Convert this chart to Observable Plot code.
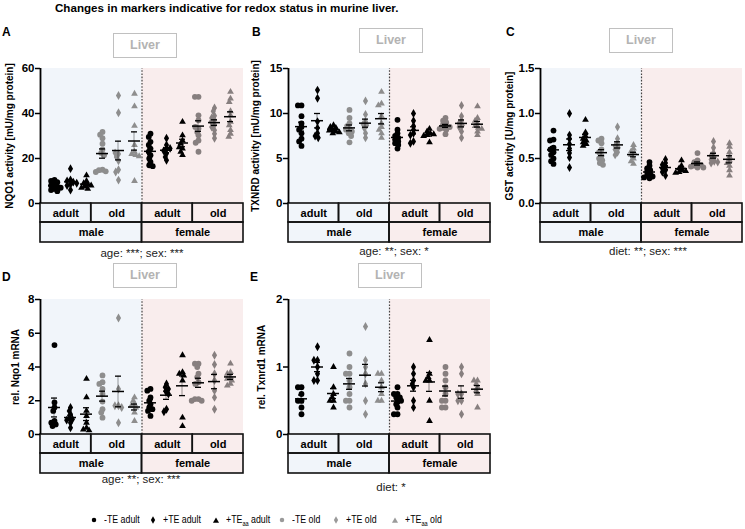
<!DOCTYPE html>
<html>
<head>
<meta charset="utf-8">
<script src="https://cdn.jsdelivr.net/npm/d3@7"></script>
<script src="https://cdn.jsdelivr.net/npm/@observablehq/plot@0.6"></script>
<style>
html,body{margin:0;padding:0;background:#fff;}
#root{position:relative;width:745px;height:529px;overflow:hidden;font-family:"Liberation Sans",Arial,sans-serif;color:#000;}
.abs{position:absolute;line-height:1;white-space:nowrap;}
#title{left:55px;top:2px;font-size:11.6px;font-weight:bold;}
.letter{font-size:12px;font-weight:bold;}
.liver{width:64px;height:25px;box-sizing:border-box;border:1.5px solid #c0c0c0;color:#b3b3b3;font-weight:bold;font-size:12.5px;display:flex;align-items:center;justify-content:center;}
.note{font-size:11.5px;color:#222;transform:translateX(-50%);}
.leg{font-size:11px;display:flex;align-items:center;}
.leg span{display:inline-block;transform:scaleX(0.8);transform-origin:0 50%;}
.leg sub{font-size:7px;vertical-align:-3px;}
.leg svg{margin-right:6px;}
.layer{position:absolute;}
.layer svg{display:block;}
</style>
</head>
<body>
<div id="root"><div id="title" class="abs">Changes in markers indicative for redox status in murine liver.</div></div>
<script>
// ---------- categories ----------
const sexes = ["male", "female"];
const ages = ["adult", "old"];
const diets = ["-TE", "+TE", "+TEaa"];
const dietSymbols = ["circle", "diamond", "triangle"];

// ---------- values (order: male adult -TE,+TE,+TEaa | male old | female adult | female old) ----------
const nqo1Activity = [
  [10.5, 10, 9.5, 8.5, 8, 7.5, 7, 6.5, 6, 5.5],
  [15.5, 10.5, 10, 9.5, 9, 8.5, 8, 6],
  [12.5, 10, 9, 8.5, 8, 7.5, 7, 6.5],
  [31.8, 30.6, 29, 26.6, 24, 22.5, 21.5, 15, 14.8, 14.3, 14],
  [48, 40.3, 22, 22.5, 20.7, 19, 15, 14, 10.4],
  [48.8, 43.2, 34.5, 26, 23, 22, 21.5, 21, 10],
  [31, 29.6, 27.4, 26, 24.4, 23, 21.5, 20, 18.5, 17, 16.6],
  [29, 26, 24.4, 23.4, 22.2, 20.7, 19.2, 24.5],
  [36.3, 30.3, 28, 26.6, 24.4, 23, 21.5, 25],
  [47.4, 47.4, 39.2, 37, 33.3, 31.8, 30.3, 28, 27, 23, 34],
  [42.5, 41, 39, 38, 37, 36.3, 35, 34, 32.6, 31, 29],
  [49.6, 46.6, 45.1, 41, 39.2, 36.3, 34.8, 32.6, 31, 29.6]
];
const txnrdActivity = [
  [10.9, 10.9, 9.7, 8.9, 8.5, 8.2, 7.8, 7.2, 6.9, 6.4],
  [12.6, 11.7, 9.1, 8.4, 7.8, 7.5, 7.3],
  [8.7, 8.5, 8.4, 8.2, 8.1, 8.0, 7.9, 7.8],
  [10.4, 9.5, 8.9, 8.6, 8.3, 8.2, 8.0, 7.8, 7.5, 6.8],
  [11.4, 9.9, 9.1, 8.8, 8.7, 8.4, 7.8, 7.3],
  [12.4, 11.1, 10.9, 9.7, 8.9, 8.5, 8.2, 7.8, 7.3],
  [9.3, 8.2, 7.8, 7.5, 7.3, 7.1, 6.9, 6.7, 6.5, 6.1],
  [10.0, 9.2, 8.6, 8.2, 7.8, 7.6, 6.9, 6.7],
  [8.3, 8.0, 7.8, 7.7, 7.6, 7.5, 6.8],
  [9.5, 9.2, 9.0, 8.8, 8.6, 8.5, 8.4, 8.3, 8.2, 7.7],
  [10.9, 9.7, 9.2, 8.9, 8.7, 8.5, 8.0, 7.3],
  [10.8, 9.5, 9.2, 8.9, 8.6, 8.4, 8.3, 8.0, 7.6]
];
const gstActivity = [
  [0.81, 0.71, 0.70, 0.62, 0.6, 0.57, 0.54, 0.5, 0.47, 0.44],
  [1.0, 0.76, 0.72, 0.66, 0.61, 0.56, 0.51, 0.4],
  [0.93, 0.79, 0.75, 0.72, 0.7, 0.68, 0.66, 0.64],
  [0.72, 0.7, 0.67, 0.6, 0.57, 0.53, 0.5, 0.48, 0.45, 0.43],
  [0.85, 0.72, 0.67, 0.64, 0.62, 0.6, 0.57, 0.54],
  [0.65, 0.61, 0.58, 0.56, 0.54, 0.5, 0.47, 0.44],
  [0.46, 0.42, 0.39, 0.37, 0.35, 0.33, 0.31, 0.3, 0.29, 0.28],
  [0.49, 0.45, 0.43, 0.41, 0.39, 0.37, 0.35, 0.31],
  [0.48, 0.42, 0.39, 0.37, 0.36, 0.35, 0.34],
  [0.56, 0.48, 0.46, 0.44, 0.43, 0.42, 0.41, 0.4, 0.4],
  [0.69, 0.62, 0.56, 0.53, 0.51, 0.49, 0.47, 0.46, 0.45],
  [0.67, 0.63, 0.57, 0.52, 0.48, 0.45, 0.42, 0.37, 0.31]
];
const nqo1Mrna = [
  [5.3, 1.9, 1.6, 1.4, 0.8, 0.7, 0.6, 0.5],
  [1.6, 1.4, 1.2, 1.0, 0.9, 0.85, 0.7, 0.4],
  [3.3, 2.2, 1.4, 1.1, 0.7, 0.4, 0.3, 0.25],
  [3.5, 3.1, 3.0, 2.7, 2.4, 1.95, 1.5, 1.3, 1.0],
  [6.9, 2.7, 1.7, 1.7, 1.6, 0.7],
  [2.2, 2.0, 1.8, 1.7, 1.6, 1.3, 0.8],
  [2.7, 2.6, 2.2, 2.0, 1.8, 1.6, 1.5, 1.4, 1.1],
  [3.0, 2.8, 2.7, 2.55, 2.4, 1.5, 1.35],
  [4.7, 3.7, 3.6, 3.5, 3.2, 1.0, 0.5],
  [4.2, 4.2, 4.0, 3.6, 3.4, 3.1, 3.0, 2.1, 2.1, 2.0, 2.0],
  [4.7, 4.15, 3.6, 3.2, 2.6, 2.2, 1.5],
  [4.2, 3.7, 3.6, 3.4, 3.3, 3.2, 3.0, 2.9]
];
const txnrd1Mrna = [
  [0.7, 0.7, 0.6, 0.5, 0.5, 0.4, 0.3],
  [1.3, 1.1, 1.1, 1.0, 0.9, 0.8, 0.8],
  [1.0, 0.7, 0.6, 0.55, 0.5, 0.5, 0.4],
  [1.2, 1.0, 0.9, 0.9, 0.8, 0.7, 0.6, 0.5, 0.5, 0.4],
  [1.6, 1.1, 1.0, 0.9, 0.75, 0.5, 0.3],
  [0.9, 0.9, 0.8, 0.7, 0.6, 0.5, 0.5],
  [0.7, 0.6, 0.6, 0.55, 0.55, 0.5, 0.5, 0.45, 0.4, 0.3, 0.3],
  [1.0, 0.9, 0.8, 0.75, 0.7, 0.5, 0.4],
  [1.4, 0.9, 0.85, 0.8, 0.8, 0.5, 0.2],
  [1.0, 0.9, 0.8, 0.7, 0.6, 0.5, 0.5, 0.4, 0.4],
  [1.0, 0.9, 0.6, 0.5, 0.5, 0.3, 0.6],
  [0.8, 0.8, 0.75, 0.7, 0.65, 0.6, 0.4]
];

// ---------- tick labels ----------
const nqo1Ticks = [0, 20, 40, 60];
const txnrdTicks = [0, 5, 10, 15];
const gstTicks = [0, 0.5, 1.0, 1.5];
const nqo1MrnaTicks = [0, 2, 4, 6, 8];
const txnrd1MrnaTicks = [0, 1, 2];

// ---------- colours ----------
const groupColors = {"male|adult": "#000000", "male|old": "#8e8e8e", "female|adult": "#000000", "female|old": "#877f7f"};
const sexFills = {male: "#f1f5fa", female: "#f9eded"};

const groups = [];
sexes.forEach(sex => ages.forEach(age => diets.forEach((diet, di) => groups.push({
  key: `${sex} ${age} ${diet}`, sex, age, diet, symbol: dietSymbols[di], color: groupColors[`${sex}|${age}`]
}))));

const panels = [
  {letter: "A", label: "NQO1 activity [mU/mg protein]", values: nqo1Activity, ticks: nqo1Ticks, fmt: d3.format("d"), note: "age: ***; sex: ***",
   left: 0, top: 63, mr: 2, labelOffset: 35, liver: [113, 33], letterPos: [2, 26.4], notePos: [142, 248]},
  {letter: "B", label: "TXNRD activity [mU/mg protein]", values: txnrdActivity, ticks: txnrdTicks, fmt: d3.format("d"), note: "age: **; sex: *",
   left: 248, top: 63, mr: 3, labelOffset: 37, liver: [359, 28], letterPos: [252, 26.4], notePos: [394, 246]},
  {letter: "C", label: "GST activity [U/mg protein]", values: gstActivity, ticks: gstTicks, fmt: d3.format(".1f"), note: "diet: **; sex: ***",
   left: 500, top: 63, mr: 3, labelOffset: 35, liver: [609, 28], letterPos: [506, 26.4], notePos: [648, 246]},
  {letter: "D", label: "rel. Nqo1 mRNA", values: nqo1Mrna, ticks: nqo1MrnaTicks, fmt: d3.format("d"), note: "age: **; sex: ***",
   left: 0, top: 294, mr: 2, labelOffset: 29, liver: [113, 263], letterPos: [2, 271.4], notePos: [141, 474]},
  {letter: "E", label: "rel. Txnrd1 mRNA", values: txnrd1Mrna, ticks: txnrd1MrnaTicks, fmt: d3.format("d"), note: "diet: *",
   left: 248, top: 294, mr: 3, labelOffset: 31, liver: [358, 263], letterPos: [250, 270.5], notePos: [391, 481.7]}
];

const root = document.getElementById("root");
function addDiv(cls, html, x, y) {
  const d = document.createElement("div");
  d.className = "abs " + cls;
  d.innerHTML = html;
  d.style.left = x + "px";
  d.style.top = y + "px";
  root.appendChild(d);
  return d;
}
const symbolRadius = {circle: 2.9, diamond: 2.7, triangle: 2.5};
const dodgeRadius = 1.8;

function drawPanel(p) {
  const W = 245, H = 184, MT = 5, MB = 44, ML = 40;
  const ymax = p.ticks[p.ticks.length - 1];
  const k = ymax / 135;
  const r1 = -19 * k, r2 = -39 * k;
  const bandwidth = (W - ML - p.mr) / groups.length;
  const whisker = 1.3;
  const ageCells = [];
  sexes.forEach((sex, si) => ages.forEach((age, ai) => {
    const i = si * ages.length + ai;
    ageCells.push({label: age, sex, x1: i * diets.length, x2: (i + 1) * diets.length});
  }));
  const perSex = ages.length * diets.length;
  const sexCells = sexes.map((sex, si) => ({label: sex, sex, x1: si * perSex, x2: (si + 1) * perSex}));
  const points = groups.flatMap((g, gi) => p.values[gi].map(v => ({group: g.key, value: v, symbol: g.symbol, color: g.color})));
  const stats = groups.map((g, gi) => {
    const v = p.values[gi];
    const m = d3.mean(v), s = d3.deviation(v) / Math.sqrt(v.length);
    return {group: g.key, mean: m, lo: m - s, hi: m + s};
  });
  const style = {background: "none", overflow: "visible", fontFamily: "'Liberation Sans', Arial, sans-serif", fontSize: "11px"};
  const common = {width: W, height: H, marginLeft: ML, marginRight: p.mr, marginTop: MT, marginBottom: MB, style};

  const base = Plot.plot({
    ...common,
    x: {domain: [0, groups.length], axis: null},
    y: {domain: [0, ymax], axis: null},
    marks: [
      Plot.rect(sexCells, {x1: "x1", x2: "x2", y1: r2, y2: ymax, fill: d => sexFills[d.sex]}),
      Plot.ruleX([perSex], {y1: 0, y2: ymax, stroke: "#444", strokeWidth: 1.2, strokeDasharray: "1.6,1.6"}),
      Plot.rect(ageCells, {x1: "x1", x2: "x2", y1: r1, y2: 0, fill: "none", stroke: "#111", strokeWidth: 1.6}),
      Plot.rect(sexCells, {x1: "x1", x2: "x2", y1: r2, y2: r1, fill: "none", stroke: "#111", strokeWidth: 1.6}),
      Plot.text(ageCells, {x: d => (d.x1 + d.x2) / 2, y: r1 / 2, text: "label", fontWeight: "bold", fontSize: 11}),
      Plot.text(sexCells, {x: d => (d.x1 + d.x2) / 2, y: (r1 + r2) / 2, text: "label", fontWeight: "bold", fontSize: 11}),
      Plot.axisY(p.ticks, {tickFormat: p.fmt, label: null, tickSize: 5, tickPadding: 1, fontSize: 11.5, fontWeight: "bold", strokeWidth: 1.5}),
      Plot.axisY({ticks: [], label: p.label, labelAnchor: "center", labelOffset: p.labelOffset, labelArrow: "none", tickSize: 0, fontSize: 10, fontWeight: "bold"}),
      Plot.ruleX([0], {y1: 0, y2: ymax, strokeWidth: 1.8})
    ]
  });

  const dotMarks = dietSymbols.map(s => Plot.dot(points.filter(d => d.symbol === s),
    Plot.dodgeX({anchor: "middle", padding: 0, r: dodgeRadius},
      {fx: "group", y: "value", symbol: s, r: symbolRadius[s], fill: "color", stroke: "none"})));

  const dots = Plot.plot({
    ...common,
    fx: {domain: groups.map(g => g.key), padding: 0, axis: null},
    y: {domain: [0, ymax], axis: null},
    marks: [
      ...dotMarks,
      Plot.rect(stats, {fx: "group", y1: "lo", y2: "hi", fill: "#000",
        insetLeft: (bandwidth - whisker) / 2, insetRight: (bandwidth - whisker) / 2}),
      Plot.ruleY(stats, {fx: "group", y: "mean", insetLeft: 2, insetRight: 2, stroke: "#000", strokeWidth: 1.5}),
      Plot.ruleY(stats, {fx: "group", y: "lo", insetLeft: 5, insetRight: 5, stroke: "#000", strokeWidth: 1.3}),
      Plot.ruleY(stats, {fx: "group", y: "hi", insetLeft: 5, insetRight: 5, stroke: "#000", strokeWidth: 1.3})
    ]
  });

  for (const svg of [base, dots]) {
    const layer = document.createElement("div");
    layer.className = "layer";
    layer.style.left = p.left + "px";
    layer.style.top = p.top + "px";
    layer.appendChild(svg);
    root.appendChild(layer);
  }
  addDiv("liver", "Liver", p.liver[0], p.liver[1]);
  addDiv("letter", p.letter, p.letterPos[0], p.letterPos[1]);
  addDiv("note", p.note, p.notePos[0], p.notePos[1]);
}
panels.forEach(drawPanel);

// ---------- legend ----------
const legendLabels = ["-TE adult", "+TE adult", "+TE<sub>aa</sub> adult", "-TE old", "+TE old", "+TE<sub>aa</sub> old"];
const legendColors = ["#000000", "#000000", "#000000", "#9a9a9a", "#9a9a9a", "#9a9a9a"];
const legendSymbols = ["circle", "diamond", "triangle", "circle", "diamond", "triangle"];
const legendX = [90, 149, 212, 278, 332, 391];
const d3Sym = {circle: d3.symbolCircle, diamond: d3.symbolDiamond, triangle: d3.symbolTriangle};
legendLabels.forEach((lab, i) => {
  const path = d3.symbol(d3Sym[legendSymbols[i]], 16)();
  addDiv("leg", `<svg width="8" height="8" viewBox="-4 -4 8 8"><path d="${path}" fill="${legendColors[i]}"/></svg><span>${lab}</span>`, legendX[i], 514);
});
</script>
</body>
</html>
